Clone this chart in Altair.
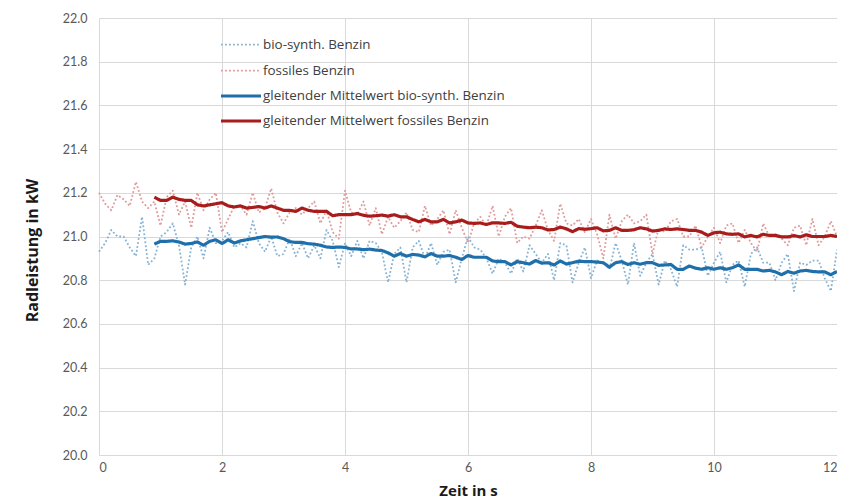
import altair as alt
import pandas as pd

series_names = [
    "bio-synth. Benzin",
    "fossiles Benzin",
    "gleitender Mittelwert bio-synth. Benzin",
    "gleitender Mittelwert fossiles Benzin",
]
colors = ["#86b2d3", "#df9a9a", "#1f6fab", "#a81c1c"]
dashes = [[1.8, 2.2], [1.8, 2.2], [1, 0], [1, 0]]
widths = [1.8, 1.8, 3.2, 3.2]

x_ticks = [0, 2, 4, 6, 8, 10, 12]
y_ticks = [20.0, 20.2, 20.4, 20.6, 20.8, 21.0, 21.2, 21.4, 21.6, 21.8, 22.0]

# time grid of raw samples (s)
t_raw = [round(i * 0.1, 1) for i in range(121)]

bio = [
    20.93, 20.97, 21.03, 21.00, 21.00, 20.95, 20.91, 21.09, 20.87, 20.90,
    21.00, 21.02, 21.06, 20.96, 20.78, 20.95, 21.00, 20.90, 21.04, 20.97,
    20.98, 21.02, 20.95, 20.97, 20.95, 21.07, 20.97, 20.93, 21.00, 20.91,
    20.92, 20.99, 20.91, 20.97, 20.90, 20.96, 20.90, 21.03, 20.98, 20.86,
    20.97, 20.91, 20.98, 20.90, 20.98, 20.97, 20.93, 20.79, 20.92, 20.95,
    20.79, 20.95, 20.98, 20.90, 20.97, 20.87, 20.93, 20.94, 20.79, 20.90,
    21.00, 20.95, 20.94, 20.90, 20.83, 20.90, 20.88, 20.83, 20.90, 20.84,
    20.96, 20.92, 20.88, 20.92, 20.80, 20.97, 20.96, 20.79, 20.88, 20.95,
    20.81, 20.89, 20.88, 20.85, 20.97, 20.89, 20.78, 20.97, 20.82, 20.88,
    20.92, 20.78, 20.89, 20.85, 20.77, 20.96, 20.94, 20.94, 20.95, 20.82,
    20.88, 20.93, 20.79, 20.87, 20.89, 20.77, 20.92, 20.95, 20.88, 20.88,
    20.80, 20.88, 20.92, 20.75, 20.88, 20.87, 20.89, 20.89, 20.81, 20.75,
    20.94,
]

fos = [
    21.20, 21.15, 21.12, 21.19, 21.17, 21.14, 21.25, 21.16, 21.13, 21.16,
    21.05, 21.18, 21.21, 21.10, 21.16, 21.04, 21.20, 21.12, 21.17, 21.20,
    21.02, 21.08, 21.14, 21.14, 21.10, 21.20, 21.11, 21.13, 21.22, 21.11,
    21.06, 21.11, 21.13, 21.10, 21.13, 21.16, 21.06, 21.12, 21.02, 20.99,
    21.21, 21.11, 21.10, 21.16, 21.05, 21.13, 21.01, 21.09, 21.04, 21.07,
    21.11, 21.03, 21.02, 21.14, 21.05, 21.08, 21.12, 21.01, 21.12, 21.04,
    20.97, 21.06, 21.09, 21.05, 21.14, 21.00, 21.09, 21.13, 20.97, 21.00,
    20.99, 21.05, 21.12, 21.03, 20.98, 21.15, 21.06, 21.05, 21.08, 21.02,
    21.08, 21.01, 20.90, 21.10, 20.99, 21.07, 21.10, 21.06, 21.07, 21.10,
    20.92, 21.04, 21.02, 21.07, 21.08, 21.00, 21.00, 21.05, 20.95, 21.00,
    21.04, 20.97, 21.05, 21.06, 20.97, 21.03, 20.97, 20.93, 21.06, 21.00,
    21.01, 20.99, 20.96, 21.04, 21.05, 20.96, 21.08, 20.96, 21.00, 21.07,
    21.00,
]

# moving averages start at 0.9 s
t_avg = [round(0.9 + i * 0.1, 1) for i in range(112)]

bio_avg = [
    20.965, 20.978, 20.978, 20.980, 20.975, 20.965, 20.968, 20.975, 20.960, 20.978,
    20.985, 20.968, 20.985, 20.970, 20.980, 20.985, 20.990, 20.995, 21.000, 20.997,
    20.998, 20.990, 20.976, 20.973, 20.973, 20.967, 20.965, 20.960, 20.952, 20.950,
    20.952, 20.950, 20.943, 20.943, 20.940, 20.942, 20.938, 20.936, 20.925, 20.910,
    20.922, 20.910, 20.918, 20.915, 20.907, 20.922, 20.910, 20.910, 20.913, 20.905,
    20.895, 20.913, 20.905, 20.905, 20.905, 20.888, 20.885, 20.885, 20.870, 20.885,
    20.880, 20.874, 20.890, 20.878, 20.880, 20.870, 20.888, 20.874, 20.880, 20.887,
    20.885, 20.885, 20.883, 20.880, 20.860, 20.880, 20.885, 20.872, 20.880, 20.873,
    20.880, 20.880, 20.868, 20.870, 20.872, 20.850, 20.850, 20.865, 20.855, 20.850,
    20.857, 20.850, 20.857, 20.850, 20.857, 20.870, 20.850, 20.850, 20.850, 20.842,
    20.845, 20.838, 20.825, 20.840, 20.832, 20.842, 20.845, 20.840, 20.838, 20.838,
    20.825, 20.840,
]

fos_avg = [
    21.180, 21.165, 21.165, 21.180, 21.170, 21.165, 21.165, 21.145, 21.140, 21.145,
    21.150, 21.155, 21.140, 21.135, 21.140, 21.130, 21.133, 21.137, 21.130, 21.140,
    21.130, 21.120, 21.120, 21.115, 21.130, 21.120, 21.115, 21.115, 21.115, 21.095,
    21.100, 21.100, 21.100, 21.105, 21.097, 21.093, 21.095, 21.098, 21.093, 21.100,
    21.090, 21.090, 21.078, 21.067, 21.078, 21.067, 21.067, 21.078, 21.062, 21.067,
    21.075, 21.062, 21.060, 21.062, 21.055, 21.063, 21.062, 21.060, 21.065, 21.047,
    21.043, 21.040, 21.043, 21.040, 21.030, 21.032, 21.043, 21.035, 21.022, 21.036,
    21.033, 21.036, 21.040, 21.026, 21.028, 21.040, 21.028, 21.028, 21.031, 21.040,
    21.035, 21.025, 21.028, 21.035, 21.032, 21.035, 21.032, 21.028, 21.028, 21.020,
    21.005, 21.017, 21.020, 21.012, 21.010, 21.012, 20.998, 21.005, 20.998, 21.010,
    21.005, 21.005, 20.998, 20.998, 21.004, 20.998, 21.008, 21.000, 21.000, 21.000,
    21.005, 21.000,
]

rows = []
for name, ts, vs in [
    (series_names[0], t_raw, bio),
    (series_names[1], t_raw, fos),
    (series_names[2], t_avg, bio_avg),
    (series_names[3], t_avg, fos_avg),
]:
    for t, v in zip(ts, vs):
        rows.append({"t": t, "v": v, "s": name})
df = pd.DataFrame(rows)

FONT = "Lato"
TITLE_FONT = "Open Sans"

legend = alt.Legend(
    title=None,
    orient="none",
    legendX=135,
    legendY=20,
    symbolType="M-4,0H4",
    symbolSize=100,
    labelFont="Open Sans",
    labelFontSize=13.4,
    labelColor="#404040",
    labelOffset=15,
    labelLimit=0,
    rowPadding=11,
)

chart = (
    alt.Chart(df)
    .mark_line(strokeCap="butt", strokeJoin="round")
    .encode(
        x=alt.X(
            "t:Q",
            scale=alt.Scale(domain=[0, 12], nice=False, zero=False),
            axis=alt.Axis(
                values=x_ticks,
                title="Zeit in s",
                titleX=369,
                titleY=35,
                titleBaseline="middle",
                labelPadding=6,
            ),
        ),
        y=alt.Y(
            "v:Q",
            scale=alt.Scale(domain=[20, 22], nice=False, zero=False),
            axis=alt.Axis(
                values=y_ticks,
                format=".1f",
                title="Radleistung in kW",
                titleX=-67,
                titleY=232,
                titleAngle=270,
                titleAlign="center",
                titleBaseline="middle",
                titleFontSize=16,
                labelPadding=12,
            ),
        ),
        color=alt.Color(
            "s:N", sort=series_names,
            scale=alt.Scale(domain=series_names, range=colors), legend=legend
        ),
        strokeDash=alt.StrokeDash(
            "s:N", sort=series_names,
            scale=alt.Scale(domain=series_names, range=dashes), legend=legend
        ),
        strokeWidth=alt.StrokeWidth(
            "s:N", sort=series_names,
            scale=alt.Scale(type="ordinal", domain=series_names, range=widths),
            legend=legend,
        ),
    )
    .properties(
        width=738,
        height=437,
        padding={"left": 91, "top": 10, "right": 0, "bottom": 46},
        autosize=alt.AutoSizeParams(type="none"),
    )
    .configure_view(stroke=None)
    .configure_axis(
        grid=True,
        gridColor="#d9d9d9",
        gridWidth=1,
        domain=False,
        ticks=False,
        tickSize=0,
        labelFont=FONT,
        labelFontSize=12.5,
        labelColor="#595959",
        titleFont=TITLE_FONT,
        titleFontSize=15,
        titleFontWeight="bold",
        titleColor="#1a1a1a",
    )
)

chart.save("out.html", embed_options={"renderer": "svg", "actions": False})
